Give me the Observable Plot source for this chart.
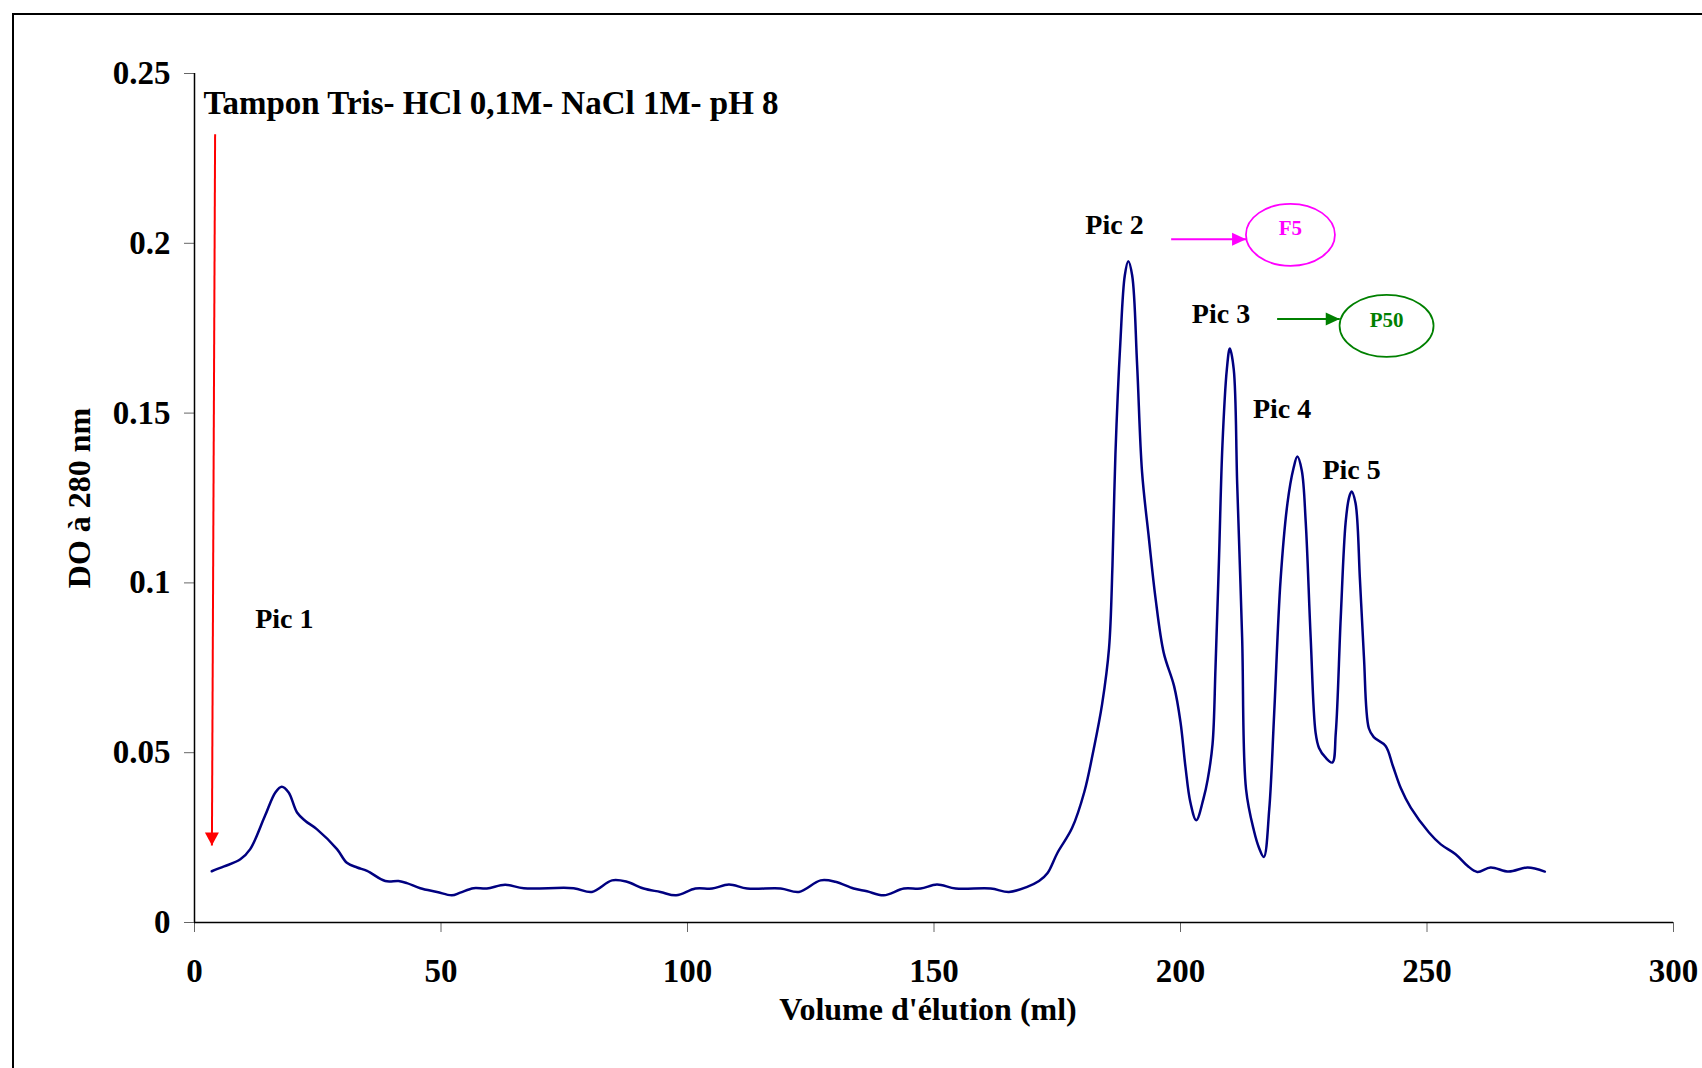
<!DOCTYPE html>
<html>
<head>
<meta charset="utf-8">
<script src="https://cdn.jsdelivr.net/npm/d3@7"></script>
<script src="https://cdn.jsdelivr.net/npm/@observablehq/plot@0.6"></script>
<style>
  html, body { margin: 0; padding: 0; background: #fff; overflow: hidden; width: 1702px; height: 1068px; }
  #frame { position: absolute; left: 12px; top: 13px; width: 2000px; height: 2000px; border: 2px solid #000; }
  #chart { position: absolute; left: 0; top: 0; }
</style>
</head>
<body>
<div id="frame"></div>
<div id="chart"></div>
<script>
// ---- data ----
const volumes = [
  3.5, 6, 9.3, 11.3, 14.3, 16.4, 17.7, 19.1, 20.8, 22.5, 24.8, 28.9, 30.9, 33, 35, 38.7, 41.4, 43.1, 45.8, 49.2,
  52.2, 53.9, 56.6, 59.3, 63, 66.8, 76.9, 80.6, 84.7, 87.7, 91.1, 94.5, 97.7, 101.6, 105, 108.4, 112.1, 118.9,
  122.6, 127, 130, 133.7, 136.4, 139.8, 143.9, 147.3, 150.6, 154.4, 161.5, 165.2, 168.9, 171.3, 173, 175, 178,
  180.5, 182.4, 184.1, 185.5, 186.2, 186.8, 187.8, 188.7, 189.4, 190.2, 191.2, 192.2, 193.6, 194.9, 196.6,
  198.7, 200, 201, 202, 203.2, 204.7, 205.5, 206.5, 207.1, 207.8, 208.5, 209.4, 210, 210.8, 211.5, 212.5,
  213.3, 214.9, 215.9, 216.9, 218, 219, 220.3, 221.7, 222.9, 223.7, 224.6, 225.4, 226.4, 227.4, 228.1, 229.4,
  230.8, 231.5, 232.5, 233.5, 234.2, 234.7, 235.5, 236.4, 237.2, 238.2, 239.2, 241.6, 243.1, 244.7, 246.7,
  250.4, 252.8, 255.8, 258.2, 260.2, 262.9, 266.6, 270.4, 273.9
];
const absorbances = [
  0.0151, 0.0165, 0.0186, 0.0216, 0.0314, 0.0383, 0.0400, 0.0383, 0.0324, 0.0299, 0.0275, 0.0216, 0.0176, 0.0162, 0.0152, 0.0122, 0.0122, 0.0116, 0.0101, 0.0090,
  0.0080, 0.0088, 0.0101, 0.0100, 0.0111, 0.0101, 0.0101, 0.0090, 0.0124, 0.0120, 0.0100, 0.0090, 0.0080, 0.0100, 0.0100, 0.0112, 0.0100, 0.0100,
  0.0090, 0.0124, 0.0120, 0.0100, 0.0092, 0.0080, 0.0100, 0.0100, 0.0112, 0.0100, 0.0100, 0.0090, 0.0105, 0.0122, 0.0145, 0.0204, 0.0278,
  0.0385, 0.0511, 0.0643, 0.0807, 0.1051, 0.1379, 0.1708, 0.1905, 0.1947, 0.1905, 0.1642, 0.1327, 0.1130, 0.0959, 0.0794,
  0.0696, 0.0590, 0.0459, 0.0354, 0.0301, 0.0367, 0.0420, 0.0525, 0.0750, 0.1066, 0.1404, 0.1629, 0.1690, 0.1629, 0.1291, 0.0840,
  0.0392, 0.0270, 0.0221, 0.0193, 0.0333, 0.0615, 0.1009, 0.1235, 0.1336, 0.1372, 0.1331, 0.1179, 0.0840, 0.0559, 0.0514, 0.0486,
  0.0471, 0.0559, 0.0897, 0.1179, 0.1252, 0.1269, 0.1235, 0.1009, 0.0784, 0.0572, 0.0546, 0.0520, 0.0460, 0.0395, 0.0338,
  0.0265, 0.0230, 0.0201, 0.0167, 0.0149, 0.0162, 0.0150, 0.0162, 0.0150
];

const xTicks = [0, 50, 100, 150, 200, 250, 300];
const xTickLabels = ["0", "50", "100", "150", "200", "250", "300"];
const yTicks = [0, 0.05, 0.1, 0.15, 0.2, 0.25];
const yTickLabels = ["0", "0.05", "0.1", "0.15", "0.2", "0.25"];
const xTitle = "Volume d'élution (ml)";
const yTitle = "DO à 280 nm";

const bufferText = ["Tampon Tris- HCl 0,1M- NaCl 1M- pH 8"];
const bufferX = [1.83];
const bufferY = [0.2381];

const peakLabels = ["Pic 1", "Pic 2", "Pic 3", "Pic 4", "Pic 5"];
const peakLabelX = [12.3, 180.7, 202.3, 214.7, 228.8];
const peakLabelY = [0.0866, 0.2028, 0.1766, 0.1485, 0.1305];

// injection arrow (red, pointing down)
const redArrowX1 = [4.18], redArrowY1 = [0.2321], redArrowX2 = [3.53], redArrowY2 = [0.0227];

// fraction arrows and ellipses
const fracNames = ["F5", "P50"];
const fracColors = ["#FF00FF", "#008000"];
const fracArrowX1 = [198.1, 219.6];
const fracArrowX2 = [213.3, 232.3];
const fracArrowY = [0.2012, 0.1777];
const fracEllipseX = [222.3, 241.8];
const fracEllipseY = [0.2025, 0.1757];
const fracTextY = [0.2024, 0.1754];

// ---- custom symbols ----
function ellipseSymbol(rx, ry) {
  return {
    draw(ctx) {
      const k = 0.5523;
      ctx.moveTo(rx, 0);
      ctx.bezierCurveTo(rx, k * ry, k * rx, ry, 0, ry);
      ctx.bezierCurveTo(-k * rx, ry, -rx, k * ry, -rx, 0);
      ctx.bezierCurveTo(-rx, -k * ry, -k * rx, -ry, 0, -ry);
      ctx.bezierCurveTo(k * rx, -ry, rx, -k * ry, rx, 0);
      ctx.closePath();
    }
  };
}
const headDown = { draw(ctx) { ctx.moveTo(0, 0); ctx.lineTo(-7, -13); ctx.lineTo(7, -13); ctx.closePath(); } };
const headRight = { draw(ctx) { ctx.moveTo(0, 0); ctx.lineTo(-14, -6.5); ctx.lineTo(-14, 6.5); ctx.closePath(); } };

const idx = (n) => d3.range(n);
const serif = "'Liberation Serif', 'Times New Roman', Times, serif";

const chart = Plot.plot({
  width: 1702,
  height: 1068,
  marginLeft: 194,
  marginRight: 29,
  marginTop: 73,
  marginBottom: 146,
  style: { fontFamily: serif, fontWeight: "bold", background: "transparent", overflow: "visible" },
  x: { domain: [0, 300] },
  y: { domain: [0, 0.25] },
  marks: [
    Plot.axisX(xTicks, { tickSize: 10, tickPadding: 26, tickFormat: (d, i) => xTickLabels[i], stroke: "#666", fill: "black", fontSize: 33, fontWeight: "bold", label: null }),
    Plot.axisY(yTicks, { tickSize: 10, tickPadding: 14, tickFormat: (d, i) => yTickLabels[i], stroke: "#666", fill: "black", fontSize: 33, fontWeight: "bold", label: null }),
    Plot.ruleY([0], { x1: xTicks[0], x2: xTicks[xTicks.length - 1], stroke: "black", strokeWidth: 1.5 }),
    Plot.ruleX([0], { y1: yTicks[0], y2: yTicks[yTicks.length - 1], stroke: "black", strokeWidth: 1.5 }),
    Plot.text([xTitle], { frameAnchor: "bottom", dx: -6, dy: 97, textAnchor: "middle", lineAnchor: "bottom", fontSize: 32, fontWeight: "bold", fill: "black" }),
    Plot.text([yTitle], { frameAnchor: "left", dx: -115, rotate: -90, textAnchor: "middle", lineAnchor: "middle", fontSize: 32, fontWeight: "bold", fill: "black" }),
    // chromatogram
    Plot.line(idx(volumes.length), { x: (i) => volumes[i], y: (i) => absorbances[i], curve: "catmull-rom", stroke: "#000080", strokeWidth: 2.5 }),
    // buffer annotation
    Plot.text(idx(1), { x: (i) => bufferX[i], y: (i) => bufferY[i], text: (i) => bufferText[i], textAnchor: "start", lineAnchor: "bottom", fontSize: 33, fontWeight: "bold", fill: "black" }),
    // red injection arrow
    Plot.link(idx(1), { x1: (i) => redArrowX1[i], y1: (i) => redArrowY1[i], x2: (i) => redArrowX2[i], y2: (i) => redArrowY2[i], stroke: "#FF0000", strokeWidth: 2 }),
    Plot.dot(idx(1), { x: (i) => redArrowX2[i], y: (i) => redArrowY2[i], symbol: headDown, fill: "#FF0000", stroke: "none" }),
    // peak labels
    Plot.text(idx(peakLabels.length), { x: (i) => peakLabelX[i], y: (i) => peakLabelY[i], text: (i) => peakLabels[i], textAnchor: "start", lineAnchor: "bottom", fontSize: 28, fontWeight: "bold", fill: "black" }),
    // fraction arrows
    Plot.link(idx(2), { x1: (i) => fracArrowX1[i], y1: (i) => fracArrowY[i], x2: (i) => fracArrowX2[i], y2: (i) => fracArrowY[i], stroke: (i) => fracColors[i], strokeWidth: 2 }),
    Plot.dot(idx(2), { x: (i) => fracArrowX2[i], y: (i) => fracArrowY[i], symbol: headRight, fill: (i) => fracColors[i], stroke: "none" }),
    // ellipses
    Plot.dot([0], { x: fracEllipseX[0], y: fracEllipseY[0], symbol: ellipseSymbol(44.5, 31), fill: "none", stroke: fracColors[0], strokeWidth: 1.75 }),
    Plot.dot([1], { x: fracEllipseX[1], y: fracEllipseY[1], symbol: ellipseSymbol(47, 31), fill: "none", stroke: fracColors[1], strokeWidth: 1.75 }),
    Plot.text(idx(2), { x: (i) => fracEllipseX[i], y: (i) => fracTextY[i], text: (i) => fracNames[i], textAnchor: "middle", lineAnchor: "bottom", fontSize: 21, fontWeight: "bold", fill: (i) => fracColors[i] })
  ]
});
document.getElementById("chart").appendChild(chart);
</script>
</body>
</html>
